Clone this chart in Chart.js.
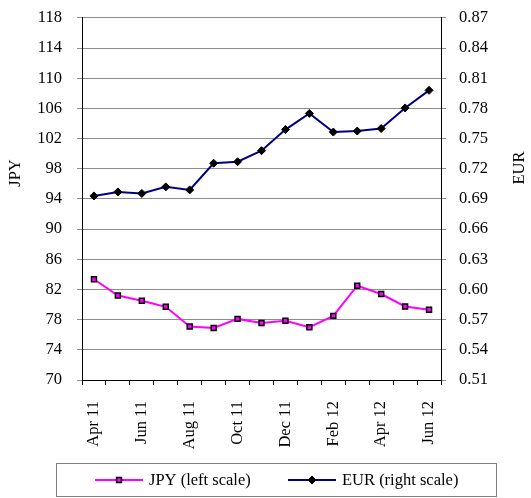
<!DOCTYPE html>
<html>
<head>
<meta charset="utf-8">
<script src="https://cdn.jsdelivr.net/npm/chart.js@4"></script>
<style>
  html, body { margin: 0; padding: 0; background: #fff; }
  #frame { width: 531px; height: 498px; position: relative; overflow: hidden; }
  #wrap { width: 531px; height: 505px; position: absolute; left: 0; top: -7px; }
</style>
</head>
<body>
<div id="frame"><div id="wrap"><canvas id="myChart"></canvas></div></div>
<script>
//DATA
const months = ["Apr 11", "May 11", "Jun 11", "Jul 11", "Aug 11", "Sep 11", "Oct 11", "Nov 11",
                "Dec 11", "Jan 12", "Feb 12", "Mar 12", "Apr 12", "May 12", "Jun 12"];
const jpy = [83.35, 81.2, 80.5, 79.7, 77.1, 76.9, 78.1, 77.55, 77.85, 77.0, 78.5, 82.5, 81.4, 79.75, 79.3];
const eur = [0.693, 0.697, 0.6955, 0.702, 0.699, 0.7255, 0.727, 0.738, 0.759, 0.775, 0.7565, 0.7575, 0.76, 0.7805, 0.798];
const jpyTicks = {min: 70, max: 118, step: 4};
const eurTicks = {min: 0.51, max: 0.87, step: 0.03};

const FONT = "'Liberation Serif', 'Times New Roman', serif";
Chart.defaults.font.family = FONT;
Chart.defaults.font.size = 16.5;
Chart.defaults.color = "#000";

// canvas sits 7px above the frame, so everything drawn by hand is shifted down by it
const SHIFT = 7;

// axis titles + boxed legend under the plot
const extras = {
    id: "extras",
    afterDraw(chart) {
        const ctx = chart.ctx;
        ctx.save();
        ctx.translate(0, SHIFT);
        ctx.font = "16.5px " + FONT;
        ctx.fillStyle = "#000";
        ctx.textAlign = "center";
        ctx.textBaseline = "middle";
        [["JPY", 16, 173], ["EUR", 520, 168]].forEach(([t, x, y]) => {
            ctx.save();
            ctx.translate(x, y);
            ctx.rotate(-Math.PI / 2);
            ctx.fillText(t, 0, 0);
            ctx.restore();
        });

        // legend box
        ctx.strokeStyle = "#7f7f7f";
        ctx.lineWidth = 1;
        ctx.strokeRect(56.5, 463.5, 440, 33);
        const slots = [95, 288];
        const ly = 480;
        chart.data.datasets.forEach((ds, i) => {
            const x0 = slots[i];
            ctx.strokeStyle = ds.borderColor;
            ctx.lineWidth = 2;
            ctx.beginPath();
            ctx.moveTo(x0, ly);
            ctx.lineTo(x0 + 48, ly);
            ctx.stroke();
            ctx.fillStyle = ds.pointBackgroundColor;
            ctx.strokeStyle = ds.pointBorderColor;
            ctx.lineWidth = ds.pointBorderWidth;
            Chart.helpers.drawPoint(ctx, {pointStyle: ds.pointStyle, radius: ds.pointRadius, borderWidth: ds.pointBorderWidth}, x0 + 24, ly);
            ctx.fillStyle = "#000";
            ctx.textAlign = "left";
            ctx.fillText(ds.label, x0 + 54, ly + 1);
        });
        ctx.restore();
    }
};

const data1 = {
    labels: months,
    datasets: [
        {
            label: "JPY (left scale)",
            data: jpy,
            yAxisID: "yL",
            borderColor: "#ff00ff",
            borderWidth: 2,
            pointStyle: "rect",
            pointRadius: 3.5,
            pointHoverRadius: 3.5,
            pointBackgroundColor: "#ff00ff",
            pointBorderColor: "#000",
            pointBorderWidth: 1.5,
            tension: 0,
        },
        {
            label: "EUR (right scale)",
            data: eur,
            yAxisID: "yR",
            borderColor: "#000080",
            borderWidth: 2,
            pointStyle: "rectRot",
            pointRadius: 4,
            pointHoverRadius: 4,
            pointBackgroundColor: "#000",
            pointBorderColor: "#000",
            pointBorderWidth: 1,
            tension: 0,
        }
    ]
};

const config = {
    type: "line",
    data: data1,
    options: {
        responsive: true,
        maintainAspectRatio: false,
        animation: false,
        layout: {padding: 0},
        plugins: {legend: {display: false}, tooltip: {enabled: false}},
        scales: {
            x: {
                offset: true,
                grid: {offset: true, drawOnChartArea: false, drawTicks: true, tickLength: 5, color: "#000"},
                border: {display: true, color: "#000", width: 1},
                ticks: {
                    autoSkip: false, minRotation: 90, maxRotation: 90, padding: 16,
                    callback: (v, i) => (i % 2 ? "" : months[i])
                },
                afterFit: (s) => { s.height = 118; }
            },
            yL: {
                position: "left",
                min: jpyTicks.min, max: jpyTicks.max,
                ticks: {stepSize: jpyTicks.step, padding: 15},
                grid: {color: "#8c8c8c", tickLength: 5},
                border: {display: true, color: "#000", width: 1},
                afterFit: (s) => { s.width = 82; }
            },
            yR: {
                position: "right",
                min: eurTicks.min, max: eurTicks.max,
                ticks: {stepSize: eurTicks.step, padding: 13, callback: (v) => v.toFixed(2)},
                grid: {drawOnChartArea: false, color: "#8c8c8c", tickLength: 5},
                border: {display: true, color: "#000", width: 1},
                afterFit: (s) => { s.width = 90; }
            }
        }
    },
    plugins: [extras]
};

var myChart = new Chart(document.querySelector("#myChart"), config);
</script>
</body>
</html>
